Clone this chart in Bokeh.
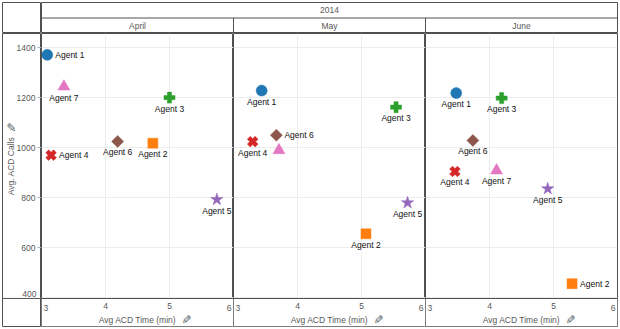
import numpy as np
from bokeh.plotting import figure
from bokeh.layouts import row, column
from bokeh.models import (Range1d, FixedTicker, LinearAxis, BoxAnnotation, Span,
                          ColumnDataSource, Label)
from bokeh.embed import file_html
from bokeh.resources import INLINE
from bokeh.core.properties import value

# ---------------- data ----------------
year = "2014"
months = ["April", "May", "June"]
agents = ["Agent 1", "Agent 2", "Agent 3", "Agent 4", "Agent 5", "Agent 6", "Agent 7"]

acd_time_april = [3.09, 4.74, 5.00, 3.15, 5.74, 4.19, 3.35]
acd_calls_april = [1371, 1018, 1200, 970, 793, 1025, 1244]
acd_time_may = [3.44, 5.07, 5.54, 3.30, 5.72, 3.67, 3.71]
acd_calls_may = [1228, 656, 1162, 1024, 780, 1050, 990]
acd_time_june = [3.48, 5.29, 4.19, 3.46, 4.91, 3.74, 4.11]
acd_calls_june = [1218, 457, 1198, 905, 836, 1029, 909]

x_ticks = [3, 4, 5, 6]
y_ticks = [400, 600, 800, 1000, 1200, 1400]
x_title = "Avg ACD Time (min)"
y_title = "Avg. ACD Calls"

# ---------------- styles ----------------
FONT = "Liberation Sans"
FS = "8.5px"
LINE = "#505050"
GRID = "#ececec"
TICK_COLOR = "#585858"
LABEL_COLOR = "#111111"
PIN = "\u270e"
PIN_COLOR = "#4f5a66"
agent_colors = ["#1f77b4", "#ff7f0e", "#2ca02c", "#d62728", "#9467bd", "#8c564b", "#e377c2"]
agent_markers = ["circle", "square", "plus", "plus", "star", "square", "triangle"]
agent_angles = [0, 0, 0, np.pi / 4, 0, np.pi / 4, 0]
agent_sizes = [11, 10, 11, 11, 13, 8.5, 12]
label_place = {
    "April": ["right", "below", "below", "right", "below", "below", "below"],
    "May": ["below", "below", "below", "below", "below", "right", "hidden"],
    "June": ["below", "right", "below", "below", "below", "below", "below"],
}
Y_TOP = 1456
Y_BOTTOM = 286
FLOOR = 398

y_range = Range1d(Y_BOTTOM, Y_TOP)


def base_fig(width, height, x_range, y_range, bl=0, br=0, bt=0, bb=0):
    p = figure(width=width, height=height, x_range=x_range, y_range=y_range,
               x_axis_location=None, y_axis_location=None,
               min_border_left=bl, min_border_right=br, min_border_top=bt,
               min_border_bottom=bb, toolbar_location=None, output_backend="svg")
    p.outline_line_color = LINE
    p.outline_line_width = 1
    p.outline_line_alpha = 1
    p.background_fill_color = "white"
    p.border_fill_color = "white"
    return p


# ---------------- header row ----------------
corner = base_fig(41, 33, Range1d(0, 1), Range1d(0, 1), bl=2, bt=2)
corner.grid.visible = False

hdr = base_fig(579, 33, Range1d(0, len(months)), Range1d(0, 2), br=3, bt=2)
hdr.grid.visible = False
hdr.add_layout(Span(location=1, dimension="width", line_color=LINE, line_width=1))
bounds = list(range(1, len(months)))
hdr.segment(x0=bounds, y0=[0] * len(bounds), x1=bounds, y1=[1] * len(bounds),
            line_color=LINE, line_width=1)
hdr.text(x=[len(months) / 2], y=[1.5], text=[year], text_align="center",
         text_baseline="middle", text_font=value(FONT), text_font_size=FS,
         text_color=TICK_COLOR)
hdr.text(x=[i + 0.5 for i in range(len(months))], y=[0.5] * len(months), text=months,
         text_align="center", text_baseline="middle", text_font=value(FONT),
         text_font_size=FS, text_color=TICK_COLOR)

# ---------------- left (y axis) column ----------------
left = base_fig(41, 296, Range1d(0, 1), y_range, bl=2, bb=3)
left.grid.visible = False
yaxis = LinearAxis(fixed_location=1, ticker=FixedTicker(ticks=y_ticks[1:]),
                   axis_label=y_title, bounds=(FLOOR, Y_TOP))
yaxis.axis_line_color = None
yaxis.major_tick_line_color = "#b0b0b0"
yaxis.major_tick_out = 4
yaxis.major_tick_in = 0
yaxis.minor_tick_line_color = None
yaxis.major_label_text_font = FONT
yaxis.major_label_text_font_size = FS
yaxis.major_label_text_color = TICK_COLOR
yaxis.major_label_standoff = 2
yaxis.axis_label_text_font = FONT
yaxis.axis_label_text_font_size = FS
yaxis.axis_label_text_font_style = "normal"
yaxis.axis_label_text_color = TICK_COLOR
yaxis.axis_label_standoff = -2
left.add_layout(yaxis, "left")
left.add_layout(Span(location=FLOOR, dimension="width", line_color=LINE, line_width=1))
left.add_layout(Label(x=1, y=y_ticks[0], text=str(y_ticks[0]), x_offset=-5, y_offset=4,
                      text_align="right", text_baseline="middle", text_font=FONT,
                      text_font_size=FS, text_color=TICK_COLOR))
left.add_layout(Label(x=0, y=(FLOOR + Y_TOP) / 2, text=PIN, x_offset=9, y_offset=38,
                      text_align="center", text_baseline="middle", text_font="DejaVu Sans",
                      text_font_size="12px", text_color=PIN_COLOR, angle=0))


# ---------------- panels ----------------
def make_panel(month, xs, ys, last=False):
    w = 192 + (3 if last else 0)
    p = base_fig(w, 296, Range1d(x_ticks[0], x_ticks[-1]), y_range,
                 br=3 if last else 0, bb=3)
    p.xgrid.ticker = FixedTicker(ticks=x_ticks[1:-1])
    p.ygrid.ticker = FixedTicker(ticks=y_ticks)
    p.grid.grid_line_color = GRID
    p.grid.grid_line_width = 1

    # keep the grid out of the axis strip
    p.add_layout(BoxAnnotation(top=FLOOR, fill_color="white", fill_alpha=1,
                               line_color=None, level="glyph"))

    xaxis = LinearAxis(fixed_location=FLOOR, ticker=FixedTicker(ticks=x_ticks[1:-1]),
                       axis_label=x_title)
    xaxis.axis_line_color = LINE
    xaxis.major_tick_out = 0
    xaxis.major_tick_in = 0
    xaxis.minor_tick_line_color = None
    xaxis.major_label_text_font = FONT
    xaxis.major_label_text_font_size = FS
    xaxis.major_label_text_color = TICK_COLOR
    xaxis.major_label_standoff = 5
    xaxis.axis_label_text_font = FONT
    xaxis.axis_label_text_font_size = FS
    xaxis.axis_label_text_font_style = "normal"
    xaxis.axis_label_text_color = TICK_COLOR
    xaxis.axis_label_standoff = 2
    p.add_layout(xaxis, "below")
    p.add_layout(Label(x=x_ticks[0], y=FLOOR, text=str(x_ticks[0]), x_offset=2,
                       y_offset=-10, text_align="left", text_baseline="middle",
                       text_font=FONT, text_font_size=FS, text_color=TICK_COLOR))
    p.add_layout(Label(x=x_ticks[-1], y=FLOOR, text=str(x_ticks[-1]), x_offset=-2,
                       y_offset=-10, text_align="right", text_baseline="middle",
                       text_font=FONT, text_font_size=FS, text_color=TICK_COLOR))
    p.add_layout(Label(x=(x_ticks[0] + x_ticks[-1]) / 2, y=FLOOR, text=PIN,
                       x_offset=48, y_offset=-21, text_align="center",
                       text_baseline="middle", text_font="DejaVu Sans",
                       text_font_size="12px", text_color=PIN_COLOR, angle=-np.pi / 2))

    place = label_place[month]
    src = ColumnDataSource(dict(
        x=xs, y=ys, agent=agents, color=agent_colors, marker=agent_markers,
        angle=agent_angles, size=agent_sizes,
        label=[a if pl != "hidden" else "" for a, pl in zip(agents, place)],
        xoff=[8 if pl == "right" else 0 for pl in place],
        yoff=[0 if pl == "right" else 11 for pl in place],
        align=["left" if pl == "right" else "center" for pl in place],
    ))
    p.scatter("x", "y", source=src, marker="marker", size="size", angle="angle",
              fill_color="color", line_color="color", line_width=0.5)
    p.text("x", "y", text="label", source=src, x_offset="xoff", y_offset="yoff",
           text_align="align", text_baseline="middle", text_font=value(FONT),
           text_font_size=FS, text_color=LABEL_COLOR)
    return p


pA = make_panel("April", acd_time_april, acd_calls_april)
pM = make_panel("May", acd_time_may, acd_calls_may)
pJ = make_panel("June", acd_time_june, acd_calls_june, last=True)

layout = column(row(corner, hdr), row(left, pA, pM, pJ))
open("out.html", "w").write(file_html(layout, INLINE))
